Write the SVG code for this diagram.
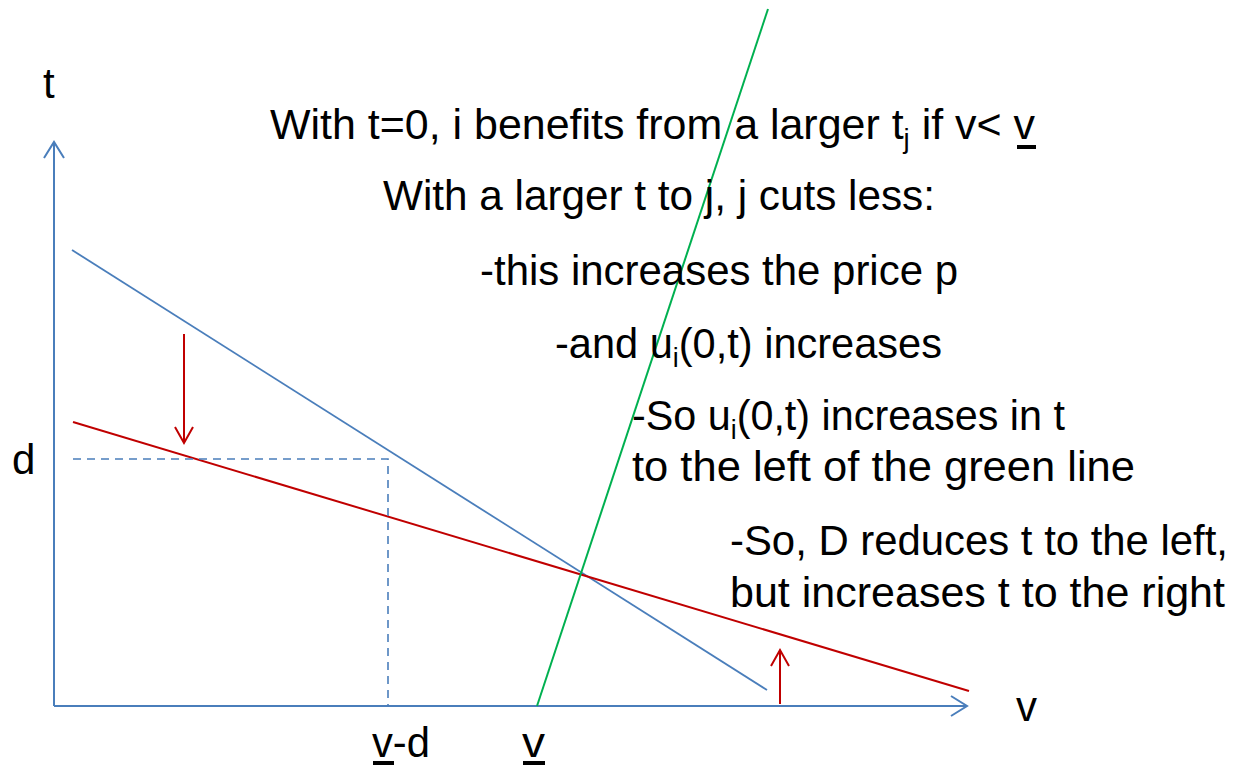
<svg xmlns="http://www.w3.org/2000/svg" width="1234" height="769" viewBox="0 0 1234 769">
<style>
.txt{font-family:"Liberation Sans",Arial,sans-serif;font-size:42px;fill:#000}
.sub{font-size:27px}
.ax{stroke:#4a7ebb;stroke-width:2;fill:none}
.bl{stroke:#4a7ebb;stroke-width:1.8;fill:none}
.dash{stroke:#4a7ebb;stroke-width:1.6;fill:none;stroke-dasharray:8 6}
.rd{stroke:#c00000;stroke-width:2;fill:none}
.gr{stroke:#00b050;stroke-width:2;fill:none}
</style>
<defs>
<marker id="axHead" markerUnits="userSpaceOnUse" markerWidth="20" markerHeight="24" refX="0" refY="0" orient="auto" overflow="visible">
<path d="M-16,-10 L0,0 L-16,10" stroke="#4a7ebb" stroke-width="2" fill="none"/>
</marker>
<marker id="redHead" markerUnits="userSpaceOnUse" markerWidth="20" markerHeight="24" refX="0" refY="0" orient="auto" overflow="visible">
<path d="M-16,-9 L0,0 L-16,9" stroke="#c00000" stroke-width="2" fill="none"/>
</marker>
</defs>
<g id="connectors">
<line id="y-axis" class="ax" x1="54" y1="706" x2="54" y2="142" marker-end="url(#axHead)"/>
<line id="x-axis" class="ax" x1="54" y1="706" x2="967" y2="706" marker-end="url(#axHead)"/>
<line id="blue-line" class="bl" x1="72" y1="250" x2="767" y2="690"/>
<line id="red-line" class="rd" x1="73" y1="422" x2="969" y2="691"/>
<line id="green-line" class="gr" x1="537" y1="706" x2="768" y2="9"/>
<polyline id="dashed-guide" class="dash" points="73,459 388,459 388,706"/>
<line id="red-arrow-down" class="rd" x1="184" y1="334" x2="184" y2="443" marker-end="url(#redHead)"/>
<line id="red-arrow-up" class="rd" x1="780" y1="704" x2="780" y2="650" marker-end="url(#redHead)"/>
</g>
<g id="axis-labels">
<text class="txt" x="43" y="98">t</text>
<text class="txt" x="12" y="474">d</text>
<text class="txt" x="1016" y="721">v</text>
<text class="txt" x="372" y="757" textLength="58" lengthAdjust="spacingAndGlyphs">v-d</text>
<rect x="373" y="761" width="21" height="4" fill="#000"/>
<text class="txt" x="522" y="757" textLength="23" lengthAdjust="spacingAndGlyphs">v</text>
<rect x="523" y="761" width="22" height="4" fill="#000"/>
</g>
<g id="annotations">
<text class="txt" x="270" y="139" textLength="765" lengthAdjust="spacingAndGlyphs">With t=0, i benefits from a larger t<tspan class="sub" dy="9">j</tspan><tspan dy="-9"> if v&lt; v</tspan></text>
<rect x="1017" y="145" width="19" height="4" fill="#000"/>
<text class="txt" x="383" y="210" textLength="552" lengthAdjust="spacingAndGlyphs">With a larger t to j, j cuts less:</text>
<text class="txt" x="480" y="285" textLength="478" lengthAdjust="spacingAndGlyphs">-this increases the price p</text>
<text class="txt" x="555" y="358" textLength="387" lengthAdjust="spacingAndGlyphs">-and u<tspan class="sub" dy="9">i</tspan><tspan dy="-9">(0,t) increases</tspan></text>
<text class="txt" x="632" y="430" textLength="433" lengthAdjust="spacingAndGlyphs">-So u<tspan class="sub" dy="9">i</tspan><tspan dy="-9">(0,t) increases in t</tspan></text>
<text class="txt" x="632" y="481" textLength="503" lengthAdjust="spacingAndGlyphs">to the left of the green line</text>
<text class="txt" x="730" y="555" textLength="498" lengthAdjust="spacingAndGlyphs">-So, D reduces t to the left,</text>
<text class="txt" x="730" y="607" textLength="495" lengthAdjust="spacingAndGlyphs">but increases t to the right</text>
</g>
</svg>
